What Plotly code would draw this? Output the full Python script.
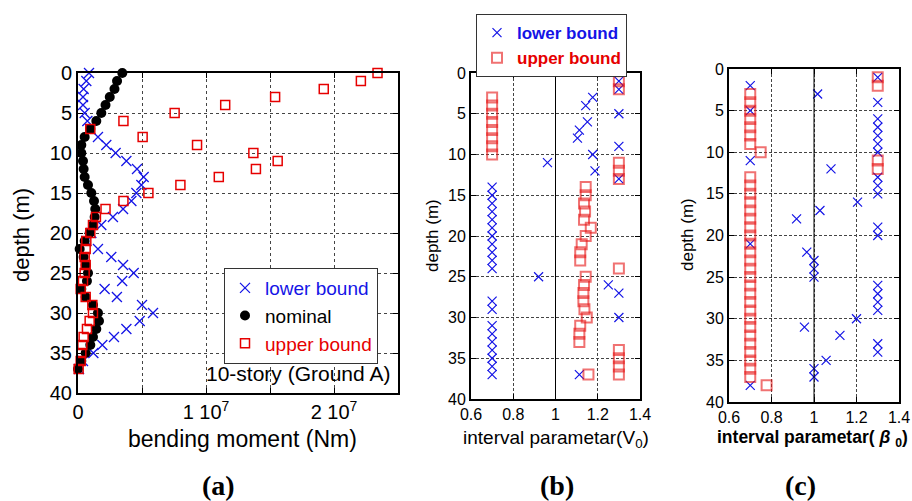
import plotly.graph_objects as go

W, H = 912, 501
FONT = "Liberation Sans"
SERIF = "Liberation Serif"
BLUE = "#1414e6"
RED = "#e60000"
RED_T = "rgba(230,20,20,0.6)"

# ---------------- Panel (a): bending moment (x 1e6 Nm) vs depth ----------------
depth_a = list(range(0, 38))
nominal_a = [3.46, 3.05, 2.85, 2.48, 2.15, 1.82, 1.43, 0.96, 0.52, 0.26,
             0.26, 0.39, 0.44, 0.52, 0.78, 1.04, 1.25, 1.35, 1.30, 1.17,
             0.91, 0.52, 0.13, 0.44, 0.60, 0.78, 0.70, 0.26, 0.60, 1.17,
             1.56, 1.64, 1.43, 1.17, 0.96, 0.60, 0.26, 0.0]
lower_a = [0.86, 0.65, 0.44, 0.39, 0.39, 0.52, 0.73, 0.96, 1.56, 2.21,
           2.94, 3.78, 4.61, 5.13, 4.95, 4.56, 4.17, 3.52, 2.73, 1.82,
           1.04, 0.65, 1.56, 2.60, 3.52, 4.35, 3.45, 2.08, 3.04, 5.00,
           5.86, 4.82, 3.78, 2.81, 1.90, 1.20, 0.39, 0.08]
upper_a = [23.4, 22.1, 19.2, 15.4, 11.5, 7.55, 3.55, 0.96, 5.05, 9.3,
           13.7, 15.6, 13.9, 11.0, 8.0, 5.5, 3.55, 2.15, 1.4, 1.17,
           0.96, 0.65, 0.6, 0.52, 0.6, 0.52, 0.39, 0.21, 0.6, 1.12,
           1.17, 0.91, 0.7, 0.44, 0.34, 0.26, 0.21, 0.05]
scale_a = 1e6
xtick_vals_a = [0, 5e6, 1e7, 1.5e7, 2e7, 2.5e7]
xtick_text_a = ["0", "", "1 10<sup>7</sup>", "", "2 10<sup>7</sup>", ""]

# ---------------- Panel (b): interval parameter V0 ----------------
depth_b_low = [1, 2, 3, 4, 5, 6, 7, 8, 9, 10, 11, 12, 13,
               14, 15, 16, 17, 18, 19, 20, 21, 22, 23, 24,
               25, 26, 27, 28, 29, 30,
               31, 32, 33, 34, 35, 36, 37, 37]
lower_b = [1.3, 1.3, 1.176, 1.143, 1.3, 1.151, 1.113, 1.104, 1.3, 1.176, 0.962, 1.187, 1.3,
           0.7, 0.7, 0.7, 0.7, 0.7, 0.7, 0.7, 0.7, 0.7, 0.7, 0.7,
           0.92, 1.25, 1.3, 0.7, 0.7, 1.3,
           0.7, 0.7, 0.7, 0.7, 0.7, 0.7, 0.7, 1.113]
depth_b_up = [1, 2, 3, 4, 5, 6, 7, 8, 9, 10, 11, 12, 13,
              14, 15, 16, 17, 18, 19, 20, 21, 22, 23, 24,
              25, 26, 27, 28, 29, 30, 31, 32, 33,
              34, 35, 36, 37, 37]
upper_b = [1.3, 1.3, 0.7, 0.7, 0.7, 0.7, 0.7, 0.7, 0.7, 0.7, 1.3, 1.3, 1.3,
           1.143, 1.143, 1.135, 1.14, 1.135, 1.167, 1.143, 1.124, 1.117, 1.117, 1.3,
           1.143, 1.135, 1.132, 1.132, 1.137, 1.148, 1.117, 1.113, 1.113,
           1.3, 1.3, 1.3, 1.3, 1.156]

# ---------------- Panel (c): interval parameter beta0 ----------------
depth_c = list(range(1, 39))
lower_c = [1.3, 0.7, 1.017, 1.3, 0.7, 1.3, 1.3, 1.3, 1.3, 1.3,
           0.7, 1.08, 1.3, 1.3, 1.3, 1.205, 1.028, 0.918, 1.3, 1.3,
           0.7, 0.966, 1.0, 1.0, 1.0, 1.3, 1.3, 1.3, 1.3, 1.2,
           0.955, 1.122, 1.3, 1.3, 1.057, 1.0, 1.0, 0.7]
upper_c = [1.3, 1.3, 0.7, 0.7, 0.7, 0.7, 0.7, 0.7, 0.7, 0.749,
           1.3, 1.3, 0.7, 0.7, 0.7, 0.7, 0.7, 0.7, 0.7, 0.7,
           0.7, 0.7, 0.7, 0.7, 0.7, 0.7, 0.7, 0.7, 0.7, 0.7,
           0.7, 0.7, 0.7, 0.7, 0.7, 0.7, 0.7, 0.777]

def px(x):
    return x / W

def py(y):
    return 1 - y / H

fig = go.Figure()

# panel a traces
fig.add_trace(go.Scatter(
    x=[v * scale_a for v in lower_a], y=depth_a, mode="markers",
    name=f"<span style='color:{BLUE}'>lower bound</span>",
    marker=dict(symbol="x-thin-open", size=10, color=BLUE, line=dict(width=1.3, color=BLUE)),
    xaxis="x", yaxis="y", cliponaxis=False, legend="legend"))
fig.add_trace(go.Scatter(
    x=[v * scale_a for v in nominal_a], y=depth_a, mode="markers",
    name="<span style='color:black'>nominal</span>",
    marker=dict(symbol="circle", size=10, color="black"),
    xaxis="x", yaxis="y", cliponaxis=False, legend="legend"))
fig.add_trace(go.Scatter(
    x=[v * scale_a for v in upper_a], y=depth_a, mode="markers",
    name=f"<span style='color:{RED}'>upper bound</span>",
    marker=dict(symbol="square-open", size=9, color=RED, line=dict(width=1.5)),
    xaxis="x", yaxis="y", cliponaxis=False, legend="legend"))

# panel b traces
fig.add_trace(go.Scatter(
    x=lower_b, y=depth_b_low, mode="markers",
    name=f"<b><span style='color:{BLUE}'>lower bound</span></b>",
    marker=dict(symbol="x-thin-open", size=9, color=BLUE, line=dict(width=1.2, color=BLUE)),
    xaxis="x2", yaxis="y2", cliponaxis=False, legend="legend2"))
fig.add_trace(go.Scatter(
    x=upper_b, y=depth_b_up, mode="markers",
    name=f"<b><span style='color:{RED}'>upper bound</span></b>",
    marker=dict(symbol="square-open", size=10, color=RED_T, line=dict(width=2)),
    xaxis="x2", yaxis="y2", cliponaxis=False, legend="legend2"))

# panel c traces
fig.add_trace(go.Scatter(
    x=lower_c, y=depth_c, mode="markers", showlegend=False,
    marker=dict(symbol="x-thin-open", size=9, color=BLUE, line=dict(width=1.2, color=BLUE)),
    xaxis="x3", yaxis="y3", cliponaxis=False))
fig.add_trace(go.Scatter(
    x=upper_c, y=depth_c, mode="markers", showlegend=False,
    marker=dict(symbol="square-open", size=10, color=RED_T, line=dict(width=2)),
    xaxis="x3", yaxis="y3", cliponaxis=False))

common = dict(showline=True, linecolor="black", linewidth=2, mirror="ticks",
              ticks="inside", ticklen=5, tickcolor="black", showgrid=True,
              gridcolor="#444", gridwidth=1, zeroline=False, automargin=False)

fig.update_layout(
    width=W, height=H, margin=dict(l=0, r=0, t=0, b=0, autoexpand=False),
    paper_bgcolor="white", plot_bgcolor="white",
    font=dict(family=FONT, color="black"),
    xaxis=dict(domain=[px(78), px(398)], range=[0, 2.5e7], tickmode="array",
               tickvals=xtick_vals_a, ticktext=xtick_text_a, griddash="dot",
               tickfont=dict(size=20), anchor="y", **common),
    yaxis=dict(domain=[py(393), py(73)], range=[40, 0], dtick=5, griddash="dot",
               tickfont=dict(size=20), anchor="x", **common),
    xaxis2=dict(domain=[px(471), px(640)], range=[0.6, 1.4], dtick=0.2, griddash="3px,2px",
                tickfont=dict(size=16), anchor="y2", **common),
    yaxis2=dict(domain=[py(399), py(73)], range=[40, 0], dtick=5, griddash="3px,2px",
                tickfont=dict(size=16), anchor="x2", **common),
    xaxis3=dict(domain=[px(729), px(899)], range=[0.6, 1.4], dtick=0.2, griddash="3px,2px",
                tickfont=dict(size=16), anchor="y3", **common),
    yaxis3=dict(domain=[py(402), py(69)], range=[40, 0], dtick=5, griddash="3px,2px",
                tickfont=dict(size=16), anchor="x3", **common),
    legend=dict(x=px(224), y=py(268), xanchor="left", yanchor="top",
                bgcolor="white", bordercolor="#333", borderwidth=1,
                font=dict(size=19, family=FONT), tracegroupgap=0),
    legend2=dict(x=px(476), y=py(14), xanchor="left", yanchor="top",
                 bgcolor="white", bordercolor="#333", borderwidth=1,
                 font=dict(size=17, family=FONT), tracegroupgap=0),
)

# solid reference lines at parameter = 1
for xa, ya in (("x2", "y2"), ("x3", "y3")):
    fig.add_shape(type="line", xref=xa, yref=f"{ya} domain", x0=1, x1=1, y0=0, y1=1,
                  line=dict(color="black", width=1))

ann = [
    dict(text="depth (m)", x=px(22), y=py(235), textangle=-90, font=dict(size=22)),
    dict(text="bending moment (Nm)", x=px(242), y=py(439), font=dict(size=23)),
    dict(text="10-story (Ground A)", x=px(298), y=py(373), font=dict(size=21)),
    dict(text="<b>(a)</b>", x=px(218), y=py(485), font=dict(size=28, family=SERIF)),
    dict(text="depth (m)", x=px(432), y=py(236), textangle=-90, font=dict(size=17)),
    dict(text="interval parametar(V<sub>0</sub>)", x=px(556), y=py(439), font=dict(size=19)),
    dict(text="<b>(b)</b>", x=px(557), y=py(485), font=dict(size=28, family=SERIF)),
    dict(text="depth (m)", x=px(688), y=py(235), textangle=-90, font=dict(size=17)),
    dict(text="<b>interval parametar( <i>β</i> <sub>0</sub>)</b>", x=px(812), y=py(438),
         font=dict(size=17.5)),
    dict(text="<b>(c)</b>", x=px(800), y=py(485), font=dict(size=28, family=SERIF)),
]
for a in ann:
    fig.add_annotation(xref="paper", yref="paper", showarrow=False,
                       xanchor="center", yanchor="middle", **a)

fig.write_html("out.html")
